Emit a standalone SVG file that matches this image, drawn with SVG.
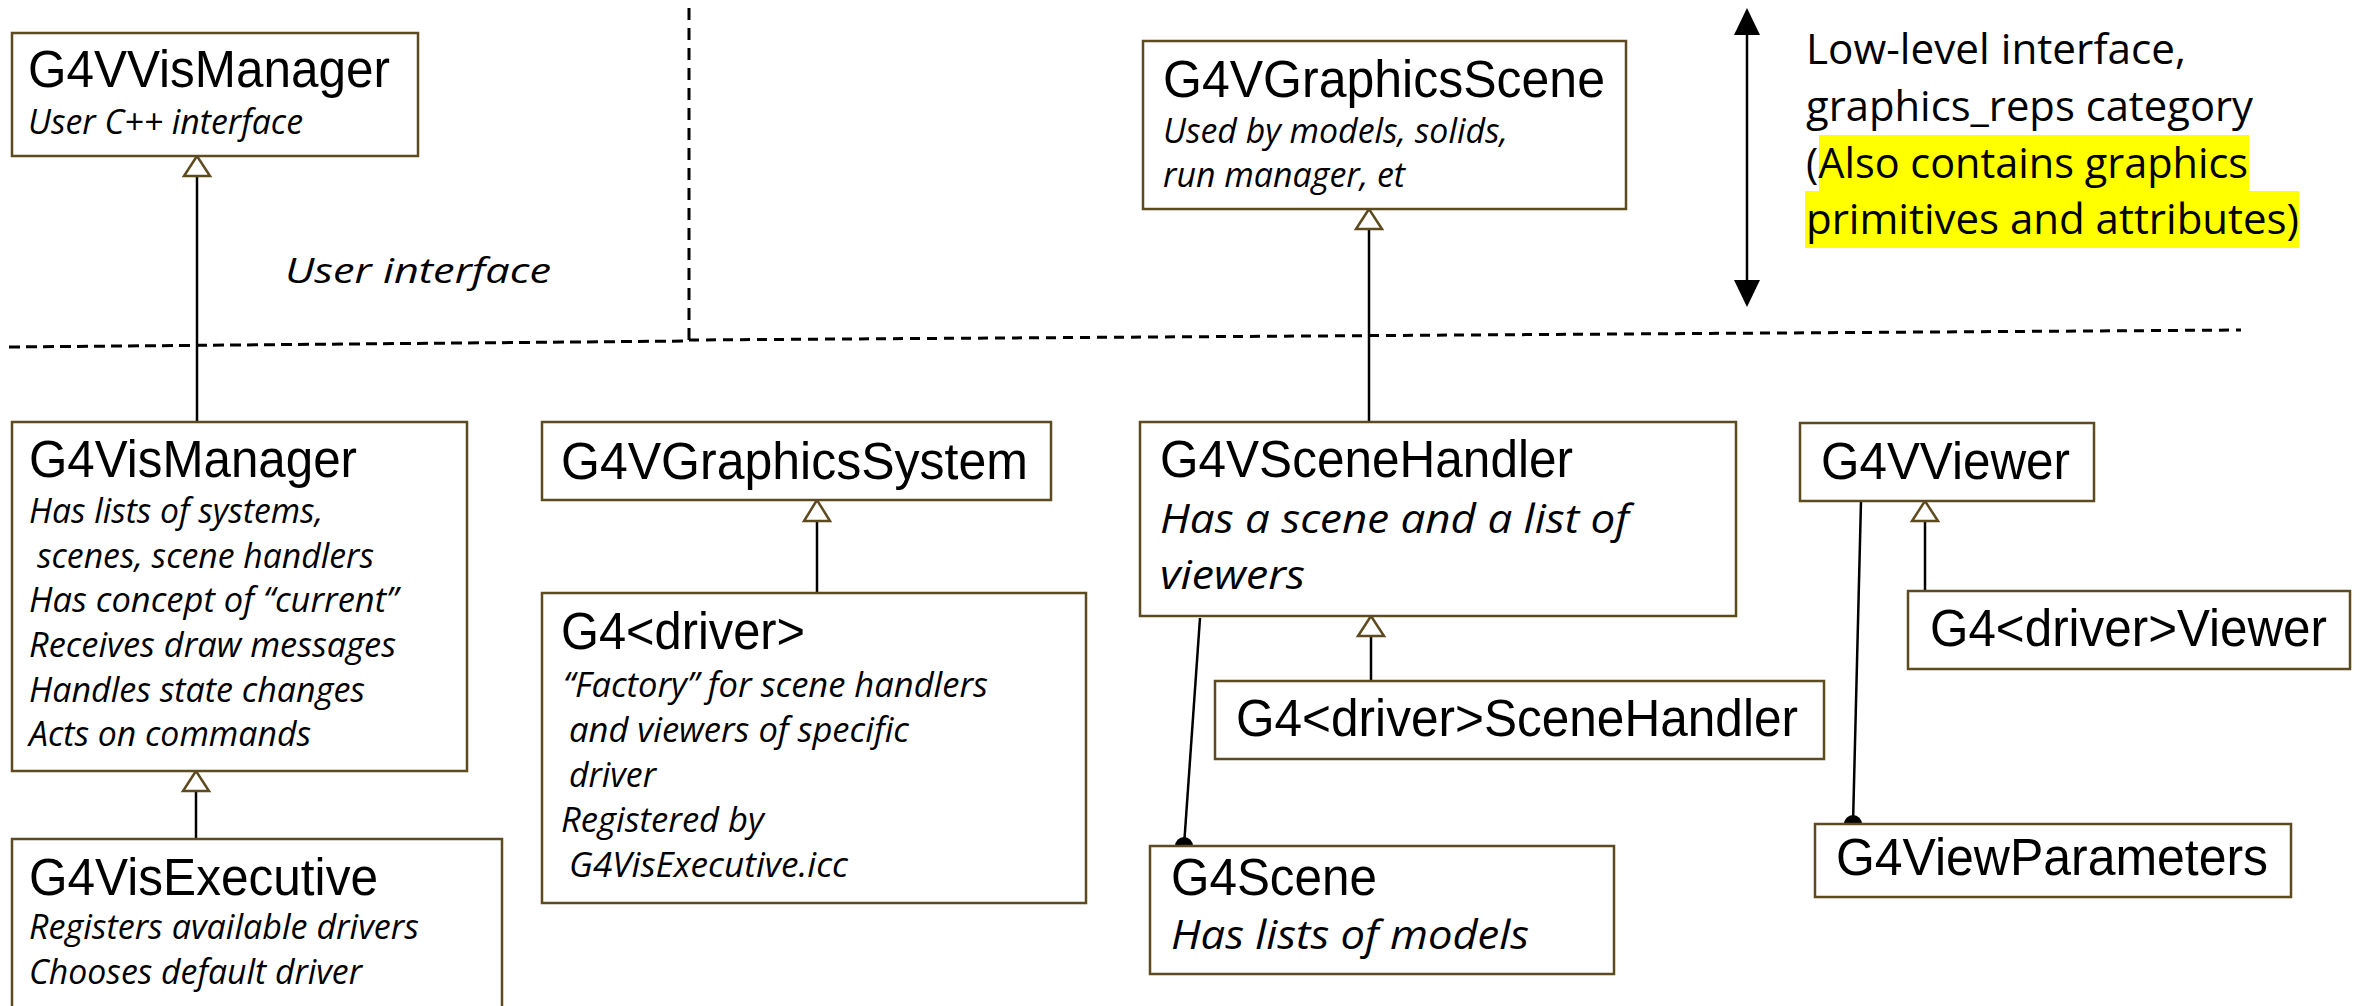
<svg xmlns="http://www.w3.org/2000/svg" width="2366" height="1006" viewBox="0 0 2366 1006">
  <defs>
    <style>
      .box { fill: #ffffff; stroke: #5e4a1f; stroke-width: 2.5; }
      .title { font-family: "Liberation Sans", Arial, sans-serif; font-size: 51px; fill: #000000; }
      .note { font-family: "Open Sans", "Noto Sans", sans-serif; font-style: italic; font-size: 35px; fill: #000000; }
      .note-lg { font-family: "Open Sans", "Noto Sans", sans-serif; font-style: italic; font-size: 41px; fill: #000000; }
      .plain { font-family: "Open Sans", "Noto Sans", sans-serif; font-size: 42px; fill: #000000; }
      .conn { stroke: #000000; stroke-width: 2.5; fill: none; }
      .gen { fill: #ffffff; stroke: #5e4a1f; stroke-width: 2.5; stroke-linejoin: miter; }
      .dot { fill: #000000; }
      .dash { stroke: #000000; stroke-width: 3; fill: none; }
      .hl { fill: #ffff00; }
    </style>
  </defs>

  <rect width="2366" height="1006" fill="#ffffff"/>

  <!-- layer separators -->
  <g id="separators">
    <line class="dash" x1="689" y1="8" x2="689" y2="340" stroke-dasharray="12 8"/>
    <line class="dash" x1="9" y1="347" x2="689" y2="341" stroke-dasharray="11 6"/>
    <line class="dash" x1="689" y1="340" x2="2241" y2="330" stroke-dasharray="10 7"/>
  </g>

  <!-- free labels -->
  <g id="labels">
    <text class="note" x="285" y="283" font-size="40" textLength="266" lengthAdjust="spacingAndGlyphs">User interface</text>
    <rect class="hl" x="1819" y="135" width="430" height="56"/>
    <rect class="hl" x="1805" y="191" width="494" height="57"/>
    <text class="plain" x="1806" y="64" textLength="380" lengthAdjust="spacingAndGlyphs">Low-level interface,</text>
    <text class="plain" x="1806" y="121" textLength="447" lengthAdjust="spacingAndGlyphs">graphics_reps category</text>
    <text class="plain" x="1806" y="178" textLength="442" lengthAdjust="spacingAndGlyphs">(Also contains graphics</text>
    <text class="plain" x="1806" y="234" textLength="493" lengthAdjust="spacingAndGlyphs">primitives and attributes)</text>
  </g>

  <!-- connectors -->
  <g id="connectors">
    <!-- generalisations -->
    <line class="conn" x1="197" y1="176" x2="197" y2="422"/>
    <polygon class="gen" points="197,156 184,176 210,176"/>

    <line class="conn" x1="196" y1="791" x2="196" y2="839"/>
    <polygon class="gen" points="196,771 183,791 209,791"/>

    <line class="conn" x1="1369" y1="229" x2="1369" y2="422"/>
    <polygon class="gen" points="1369,209 1356,229 1382,229"/>

    <line class="conn" x1="817" y1="521" x2="817" y2="593"/>
    <polygon class="gen" points="817,500 804,521 830,521"/>

    <line class="conn" x1="1371" y1="636" x2="1371" y2="681"/>
    <polygon class="gen" points="1371,616 1358,636 1384,636"/>

    <line class="conn" x1="1925" y1="521" x2="1925" y2="591"/>
    <polygon class="gen" points="1925,501 1912,521 1938,521"/>

    <!-- associations -->
    <line class="conn" x1="1200" y1="618" x2="1184" y2="846"/>
    <circle class="dot" cx="1184" cy="846" r="9"/>
    <line class="conn" x1="1861" y1="501" x2="1853" y2="824"/>
    <circle class="dot" cx="1853" cy="824" r="9"/>

    <!-- layer span arrow -->
    <line class="conn" x1="1747" y1="30" x2="1747" y2="285"/>
    <polygon class="dot" points="1747,8 1734,35 1760,35"/>
    <polygon class="dot" points="1747,307 1734,280 1760,280"/>
  </g>

  <!-- nodes -->
  <g id="G4VVisManager">
    <rect class="box" x="12" y="33" width="406" height="123"/>
    <text class="title" x="28" y="87" font-size="48" textLength="362" lengthAdjust="spacingAndGlyphs">G4VVisManager</text>
    <text class="note" x="28" y="134" font-size="31" textLength="275" lengthAdjust="spacingAndGlyphs">User C++ interface</text>
  </g>

  <g id="G4VGraphicsScene">
    <rect class="box" x="1143" y="41" width="483" height="168"/>
    <text class="title" x="1163" y="97" textLength="442" lengthAdjust="spacingAndGlyphs">G4VGraphicsScene</text>
    <text class="note" x="1163" y="143" textLength="345" lengthAdjust="spacingAndGlyphs">Used by models, solids,</text>
    <text class="note" x="1163" y="187" textLength="242" lengthAdjust="spacingAndGlyphs">run manager, et</text>
  </g>

  <g id="G4VisManager">
    <rect class="box" x="12" y="422" width="455" height="349"/>
    <text class="title" x="29" y="477" textLength="328" lengthAdjust="spacingAndGlyphs">G4VisManager</text>
    <text class="note" x="29" y="523" textLength="294" lengthAdjust="spacingAndGlyphs">Has lists of systems,</text>
    <text class="note" x="37" y="568" textLength="337" lengthAdjust="spacingAndGlyphs">scenes, scene handlers</text>
    <text class="note" x="29" y="612" textLength="369" lengthAdjust="spacingAndGlyphs">Has concept of “current”</text>
    <text class="note" x="29" y="657" textLength="367" lengthAdjust="spacingAndGlyphs">Receives draw messages</text>
    <text class="note" x="29" y="702" textLength="336" lengthAdjust="spacingAndGlyphs">Handles state changes</text>
    <text class="note" x="29" y="746" textLength="282" lengthAdjust="spacingAndGlyphs">Acts on commands</text>
  </g>

  <g id="G4VisExecutive">
    <rect class="box" x="12" y="839" width="490" height="180"/>
    <text class="title" x="29" y="895" textLength="349" lengthAdjust="spacingAndGlyphs">G4VisExecutive</text>
    <text class="note" x="29" y="939" textLength="390" lengthAdjust="spacingAndGlyphs">Registers available drivers</text>
    <text class="note" x="29" y="984" textLength="333" lengthAdjust="spacingAndGlyphs">Chooses default driver</text>
  </g>

  <g id="G4VGraphicsSystem">
    <rect class="box" x="542" y="422" width="509" height="78"/>
    <text class="title" x="561" y="479" textLength="467" lengthAdjust="spacingAndGlyphs">G4VGraphicsSystem</text>
  </g>

  <g id="G4driver">
    <rect class="box" x="542" y="593" width="544" height="310"/>
    <text class="title" x="561" y="649" textLength="244" lengthAdjust="spacingAndGlyphs">G4&lt;driver&gt;</text>
    <text class="note" x="563" y="697" textLength="425" lengthAdjust="spacingAndGlyphs">“Factory” for scene handlers</text>
    <text class="note" x="569" y="742" textLength="340" lengthAdjust="spacingAndGlyphs">and viewers of specific</text>
    <text class="note" x="569" y="787" textLength="87" lengthAdjust="spacingAndGlyphs">driver</text>
    <text class="note" x="561" y="832" textLength="203" lengthAdjust="spacingAndGlyphs">Registered by</text>
    <text class="note" x="569" y="877" textLength="279" lengthAdjust="spacingAndGlyphs">G4VisExecutive.icc</text>
  </g>

  <g id="G4VSceneHandler">
    <rect class="box" x="1140" y="422" width="596" height="194"/>
    <text class="title" x="1160" y="477" textLength="413" lengthAdjust="spacingAndGlyphs">G4VSceneHandler</text>
    <text class="note-lg" x="1160" y="533" textLength="469" lengthAdjust="spacingAndGlyphs">Has a scene and a list of</text>
    <text class="note-lg" x="1160" y="589" textLength="145" lengthAdjust="spacingAndGlyphs">viewers</text>
  </g>

  <g id="G4driverSceneHandler">
    <rect class="box" x="1215" y="681" width="609" height="78"/>
    <text class="title" x="1236" y="736" textLength="562" lengthAdjust="spacingAndGlyphs">G4&lt;driver&gt;SceneHandler</text>
  </g>

  <g id="G4Scene">
    <rect class="box" x="1150" y="846" width="464" height="128"/>
    <text class="title" x="1171" y="895" textLength="206" lengthAdjust="spacingAndGlyphs">G4Scene</text>
    <text class="note-lg" x="1171" y="949" textLength="358" lengthAdjust="spacingAndGlyphs">Has lists of models</text>
  </g>

  <g id="G4VViewer">
    <rect class="box" x="1800" y="423" width="294" height="78"/>
    <text class="title" x="1821" y="479" textLength="249" lengthAdjust="spacingAndGlyphs">G4VViewer</text>
  </g>

  <g id="G4driverViewer">
    <rect class="box" x="1908" y="591" width="442" height="78"/>
    <text class="title" x="1930" y="646" textLength="397" lengthAdjust="spacingAndGlyphs">G4&lt;driver&gt;Viewer</text>
  </g>

  <g id="G4ViewParameters">
    <rect class="box" x="1815" y="824" width="476" height="73"/>
    <text class="title" x="1836" y="875" textLength="432" lengthAdjust="spacingAndGlyphs">G4ViewParameters</text>
  </g>
</svg>
